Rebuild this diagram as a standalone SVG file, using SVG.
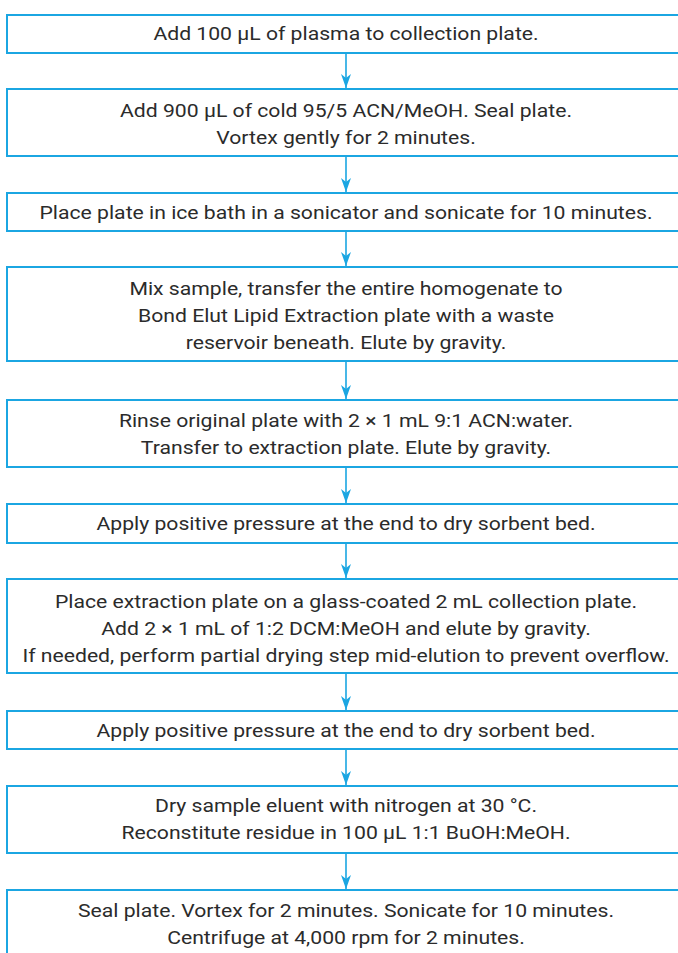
<svg xmlns="http://www.w3.org/2000/svg" width="678" height="953" viewBox="0 0 678 953">
<defs>
<style>
.box{fill:#ffffff;stroke:#1ba6e2;stroke-width:2}
.t{font-family:Roboto,"Liberation Sans",sans-serif;font-size:19px;fill:#2b2b2b;text-anchor:middle}
.c{stroke:#1ba6e2;stroke-width:1.6;fill:none}
</style>
<marker id="ah" viewBox="0 0 14 10" refX="14" refY="5" markerWidth="14" markerHeight="10" markerUnits="userSpaceOnUse" orient="auto">
<path d="M0,0 L14,5 L0,10 L4,5 Z" fill="#1ba6e2"/>
</marker>
</defs>
<rect width="678" height="953" fill="#ffffff"/>
<g id="connectors">
<line class="c" x1="346" y1="53" x2="346" y2="88" marker-end="url(#ah)"/>
<line class="c" x1="346" y1="156" x2="346" y2="192" marker-end="url(#ah)"/>
<line class="c" x1="346" y1="231" x2="346" y2="266" marker-end="url(#ah)"/>
<line class="c" x1="346" y1="361" x2="346" y2="399" marker-end="url(#ah)"/>
<line class="c" x1="346" y1="467" x2="346" y2="503" marker-end="url(#ah)"/>
<line class="c" x1="346" y1="543" x2="346" y2="578" marker-end="url(#ah)"/>
<line class="c" x1="346" y1="673" x2="346" y2="710" marker-end="url(#ah)"/>
<line class="c" x1="346" y1="749" x2="346" y2="785" marker-end="url(#ah)"/>
<line class="c" x1="346" y1="853" x2="346" y2="889" marker-end="url(#ah)"/>
</g>
<g id="n1"><rect class="box" x="7" y="15" width="680" height="38"/>
<text class="t" transform="matrix(1.115 0 0 1 346 40)">Add 100 µL of plasma to collection plate.</text></g>
<g id="n2"><rect class="box" x="7" y="89" width="680" height="67"/>
<text class="t" transform="matrix(1.115 0 0 1 346 116.5)">Add 900 µL of cold 95/5 ACN/MeOH. Seal plate.</text>
<text class="t" transform="matrix(1.115 0 0 1 346 143.5)">Vortex gently for 2 minutes.</text></g>
<g id="n3"><rect class="box" x="7" y="193" width="680" height="38"/>
<text class="t" transform="matrix(1.115 0 0 1 346 219)">Place plate in ice bath in a sonicator and sonicate for 10 minutes.</text></g>
<g id="n4"><rect class="box" x="7" y="267" width="680" height="94"/>
<text class="t" transform="matrix(1.115 0 0 1 346 295)">Mix sample, transfer the entire homogenate to</text>
<text class="t" transform="matrix(1.115 0 0 1 346 322)">Bond Elut Lipid Extraction plate with a waste</text>
<text class="t" transform="matrix(1.115 0 0 1 346 349)">reservoir beneath. Elute by gravity.</text></g>
<g id="n5"><rect class="box" x="7" y="400" width="680" height="67"/>
<text class="t" transform="matrix(1.115 0 0 1 346 427)">Rinse original plate with 2 × 1 mL 9:1 ACN:water.</text>
<text class="t" transform="matrix(1.115 0 0 1 346 454)">Transfer to extraction plate. Elute by gravity.</text></g>
<g id="n6"><rect class="box" x="7" y="504" width="680" height="39"/>
<text class="t" transform="matrix(1.115 0 0 1 346 530)">Apply positive pressure at the end to dry sorbent bed.</text></g>
<g id="n7"><rect class="box" x="7" y="579" width="680" height="94"/>
<text class="t" transform="matrix(1.115 0 0 1 346 608)">Place extraction plate on a glass-coated 2 mL collection plate.</text>
<text class="t" transform="matrix(1.115 0 0 1 346 635)">Add 2 × 1 mL of 1:2 DCM:MeOH and elute by gravity.</text>
<text class="t" transform="matrix(1.115 0 0 1 346 662)">If needed, perform partial drying step mid-elution to prevent overflow.</text></g>
<g id="n8"><rect class="box" x="7" y="711" width="680" height="38"/>
<text class="t" transform="matrix(1.115 0 0 1 346 737)">Apply positive pressure at the end to dry sorbent bed.</text></g>
<g id="n9"><rect class="box" x="7" y="786" width="680" height="67"/>
<text class="t" transform="matrix(1.115 0 0 1 346 812)">Dry sample eluent with nitrogen at 30 °C.</text>
<text class="t" transform="matrix(1.115 0 0 1 346 839)">Reconstitute residue in 100 µL 1:1 BuOH:MeOH.</text></g>
<g id="n10"><rect class="box" x="7" y="890" width="680" height="67"/>
<text class="t" transform="matrix(1.115 0 0 1 346 917)">Seal plate. Vortex for 2 minutes. Sonicate for 10 minutes.</text>
<text class="t" transform="matrix(1.115 0 0 1 346 944)">Centrifuge at 4,000 rpm for 2 minutes.</text></g>
</svg>
